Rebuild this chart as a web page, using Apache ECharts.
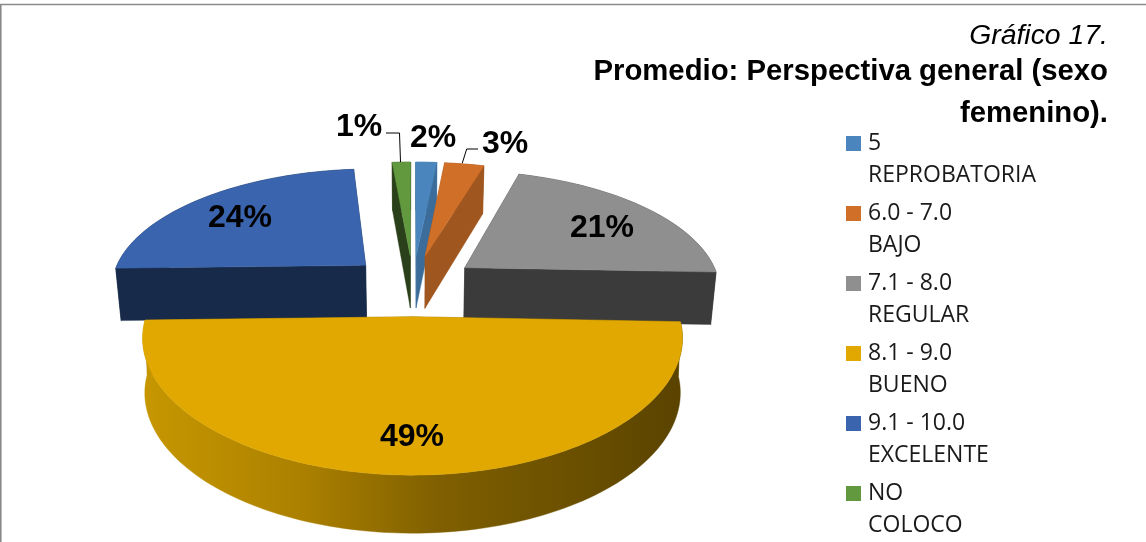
<!DOCTYPE html>
<html>
<head>
<meta charset="utf-8">
<style>html,body{margin:0;padding:0;background:#fff}#c{width:1146px;height:542px}</style>
<script src="https://cdn.jsdelivr.net/npm/echarts@6/dist/echarts.min.js"></script>
</head>
<body>
<div id="c"></div>
<script>
var categories = ['5\nREPROBATORIA','6.0 - 7.0\nBAJO','7.1 - 8.0\nREGULAR','8.1 - 9.0\nBUENO','9.1 - 10.0\nEXCELENTE','NO\nCOLOCO'];
var values = [1.6, 3, 21, 49, 24, 1.4];
var titleLines = ['Gráfico 17.', 'Promedio: Perspectiva general (sexo', 'femenino).'];

var topColors = ['#4a86bd','#d06f28','#8f8f8f','#e0a800','#3a64ad','#62993f'];
var sideColors = ['#3b6c9a','#a0561f','#3b3b3b','#8a6800','#172a4a','#2a401a'];
var labelPos = [[433,138],[505,144],[602,228],[412,437],[240,218],[359,127]];
var leaders = {1:[[478,149],[466.7,149],[462.3,163]], 5:[[386,133],[399.5,133],[400.5,162]]};
var zOrder = [2,2,3,5,4,2];

// projection of the tilted pie plane
var CX=413, CY=285, A=256, B=119, K=0.171, EXPLODE=0.255;
function project(u,v,down){
  var s=1+K*v;
  var sx=v<0?1+K*0.9*v:s;
  var x=A*u/sx, y=-B*v/s;
  if(down){ x*=(v<0?0.992:0.982); y+=53-4*v; }
  return [CX+x, CY+y];
}
var total=values.reduce(function(a,b){return a+b;},0);
var starts=[],acc=0;
values.forEach(function(v){starts.push(acc);acc+=v;});

function makeRender(i){
  return function(params,api){
    var val=api.value(0);
    var a0=starts[i]/total*2*Math.PI, a1=a0+val/total*2*Math.PI, mid=(a0+a1)/2;
    var ox=Math.sin(mid)*EXPLODE, oy=Math.cos(mid)*EXPLODE;
    var n=Math.max(2,Math.ceil((a1-a0)/(Math.PI/120)));
    var arcTop=[],arcBot=[];
    for(var k=0;k<=n;k++){
      var t=a0+(a1-a0)*k/n;
      var u=ox+Math.sin(t), v=oy+Math.cos(t);
      arcTop.push(project(u,v,false));
      arcBot.push(project(u,v,true));
    }
    var apexT=project(ox,oy,false), apexB=project(ox,oy,true);
    var side=sideColors[i];
    var wallFill=i===3?{type:'linear',x:0,y:0,x2:1,y2:0,colorStops:[
      {offset:0,color:'#c79700'},{offset:0.3,color:'#ab8000'},{offset:0.55,color:'#7f5f00'},{offset:1,color:'#5a4300'}]}:side;
    var kids=[];
    function poly(pts,fill){kids.push({type:'polygon',shape:{points:pts},style:{fill:fill,stroke:fill,lineWidth:0.4},silent:true});}
    poly([apexT,arcTop[0],arcBot[0],apexB],side);
    poly([apexT,arcTop[n],arcBot[n],apexB],side);
    poly(arcTop.concat(arcBot.slice().reverse()),wallFill);
    poly([apexT].concat(arcTop),topColors[i]);
    if(leaders[i]) kids.push({type:'polyline',shape:{points:leaders[i]},style:{stroke:'#000',lineWidth:1,fill:null},silent:true});
    kids.push({type:'text',x:labelPos[i][0],y:labelPos[i][1],silent:true,
      style:{text:Math.round(val)+'%',fontFamily:'Liberation Sans',fontWeight:'bold',fontSize:32,fill:'#000',align:'center',verticalAlign:'middle'}});
    return {type:'group',children:kids};
  };
}

var chart=echarts.init(document.getElementById('c'),null,{renderer:'canvas'});
chart.setOption({
  animation:false,
  backgroundColor:'#fff',
  title:[
    {text:titleLines[0],right:38,top:22,padding:0,textStyle:{fontFamily:'Liberation Sans',fontStyle:'italic',fontWeight:'normal',fontSize:28.4,color:'#000'}},
    {text:titleLines[1],right:38,top:57,padding:0,textStyle:{fontFamily:'Liberation Sans',fontWeight:'bold',fontSize:29.3,color:'#000'}},
    {text:titleLines[2],right:38,top:99,padding:0,textStyle:{fontFamily:'Liberation Sans',fontWeight:'bold',fontSize:29.3,color:'#000'}}
  ],
  legend:{
    orient:'vertical',left:846,top:95.5,height:800,padding:0,itemWidth:15,itemHeight:15,itemGap:-26,itemStyle:{borderWidth:0},
    icon:'rect',selectedMode:false,
    data:categories,
    formatter:function(n){return '\n'+n;},
    textStyle:{fontFamily:'Open Sans',fontSize:23,lineHeight:32,color:'#1a1a1a',padding:[0,0,0,2]}
  },
  graphic:[{type:'polyline',silent:true,z:-1,shape:{points:[[0.8,542],[0.8,4.5],[1146,4.5]]},style:{stroke:'#8a8a8a',lineWidth:1.6,fill:null}}],
  series:categories.map(function(name,i){
    return {type:'custom',name:name,coordinateSystem:'none',z:zOrder[i],silent:true,
      itemStyle:{color:topColors[i]},data:[[values[i]]],renderItem:makeRender(i)};
  })
});
</script>
</body>
</html>
